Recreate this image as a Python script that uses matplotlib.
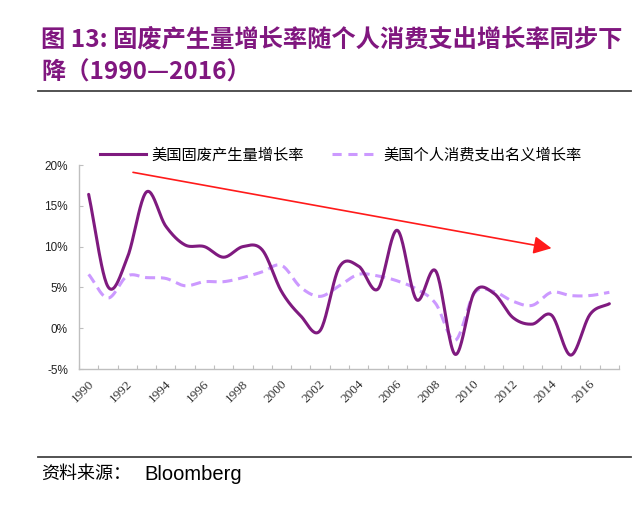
import numpy as np
import matplotlib
matplotlib.use("Agg")
import matplotlib.pyplot as plt
from matplotlib.lines import Line2D

plt.rcParams['font.family'] = ['Noto Sans CJK SC', 'DejaVu Sans']

years = list(range(1990, 2018))
msw_growth = [16.4, 5.1, 8.6, 16.7, 12.5, 10.2, 10.0, 8.7, 10.0, 9.6,
              4.5, 1.5, -0.3, 7.5, 7.6, 4.8, 12.0, 3.5, 7.0, -3.2,
              4.4, 4.3, 1.3, 0.5, 1.6, -3.3, 1.7, 3.0]
pce_growth = [6.6, 3.7, 6.4, 6.2, 6.1, 5.2, 5.7, 5.7, 6.2, 6.9,
              7.7, 5.0, 3.9, 5.2, 6.6, 6.4, 5.8, 4.8, 3.0, -1.5,
              4.3, 4.5, 3.3, 2.8, 4.4, 4.0, 4.0, 4.4]
tick_years = [str(y) for y in range(1990, 2017, 2)]
yticks = [-5, 0, 5, 10, 15, 20]
series_names = ['美国固废产生量增长率', '美国个人消费支出名义增长率']
title_line1 = '图 13: 固废产生量增长率随个人消费支出增长率同步下'
title_line2 = '降（1990—2016）'
source_text = '资料来源：'
source_name = 'Bloomberg'


def smooth(xs, ys, n=24):
    xs = np.asarray(xs, float)
    ys = np.asarray(ys, float)
    px = np.concatenate([[2 * xs[0] - xs[1]], xs, [2 * xs[-1] - xs[-2]]])
    py = np.concatenate([[2 * ys[0] - ys[1]], ys, [2 * ys[-1] - ys[-2]]])
    ox, oy = [], []
    t = np.linspace(0, 1, n, endpoint=False)
    for i in range(1, len(px) - 2):
        def cr(a0, a1, a2, a3):
            return 0.5 * ((2 * a1) + (-a0 + a2) * t + (2 * a0 - 5 * a1 + 4 * a2 - a3) * t ** 2
                          + (-a0 + 3 * a1 - 3 * a2 + a3) * t ** 3)
        ox.append(cr(px[i - 1], px[i], px[i + 1], px[i + 2]))
        oy.append(cr(py[i - 1], py[i], py[i + 1], py[i + 2]))
    ox.append([xs[-1]])
    oy.append([ys[-1]])
    return np.concatenate(ox), np.concatenate(oy)


fig = plt.figure(figsize=(6.4, 5.08), dpi=100)
W, H = 640, 508
ax = fig.add_axes([79 / W, 1 - 369 / H, (619 - 79) / W, (369 - 165) / H])

x = np.arange(len(years))
sx, sy = smooth(x, pce_growth)
ax.plot(sx, sy, color='#CC99FF', lw=2.2, dashes=(3.3, 1.9), solid_capstyle='butt')
sx, sy = smooth(x, msw_growth)
ax.plot(sx, sy, color='#7F1A7F', lw=2.2, solid_capstyle='round')

ax.set_xlim(-0.5, len(years) - 0.5)
ax.set_ylim(-5, 20)
ax.set_yticks(yticks)
ax.set_yticklabels([f'{v}%' for v in yticks], fontfamily='Liberation Sans', fontsize=8.5, color='#222222')
ax.set_xticks(np.arange(-0.5, len(years), 1.0))
ax.set_xticklabels([])
ax.tick_params(axis='both', direction='in', length=3, color='#BFBFBF', width=0.8)
ax.tick_params(axis='y', pad=8)
for i, lab in enumerate(tick_years):
    ax.text(2 * i - 0.05, -6.1, lab, rotation=45, ha='right', va='top', rotation_mode='anchor',
            fontfamily='Liberation Serif', fontsize=9.5, color='#333333')

for s in ['top', 'right']:
    ax.spines[s].set_visible(False)
for s in ['left', 'bottom']:
    ax.spines[s].set_color('#BFBFBF')
    ax.spines[s].set_linewidth(1.0)

ax.annotate('', xy=(24.0, 9.8), xytext=(2.3, 19.1),
            arrowprops=dict(arrowstyle='-|>,head_length=0.9,head_width=0.45', color='#FF1A1A', lw=1.2,
                            shrinkA=0, shrinkB=0, mutation_scale=12))

h1 = Line2D([], [], color='#7F1A7F', lw=2.2)
h2 = Line2D([], [], color='#CC99FF', lw=2.2, dashes=(3, 2.2))
fig.legend([h1, h2], series_names, loc='center left', bbox_to_anchor=(86 / W, 1 - 155 / H),
           ncol=2, frameon=False, handlelength=3.0, handletextpad=0.35, columnspacing=1.9,
           prop={'family': 'Noto Sans CJK SC', 'size': 11})

purple = '#80177F'
fig.text(41 / W, 1 - 39 / H, title_line1, color=purple, fontsize=17.5, fontweight='bold',
         ha='left', va='center')
fig.text(41 / W, 1 - 73 / H, title_line2, color=purple, fontsize=17.5, fontweight='bold',
         ha='left', va='center')
fig.add_artist(Line2D([38 / W, 631 / W], [1 - 91 / H, 1 - 91 / H], color='#444444', lw=1.3))
fig.add_artist(Line2D([38 / W, 631 / W], [1 - 457 / H, 1 - 457 / H], color='#444444', lw=1.3))
fig.text(41 / W, 1 - 474 / H, source_text, fontsize=13, ha='left', va='center', color='black')
fig.text(144 / W, 1 - 474 / H, source_name, fontsize=14.5, ha='left', va='center', color='black',
         fontfamily='Liberation Sans')

fig.savefig('out.png', dpi=100)
